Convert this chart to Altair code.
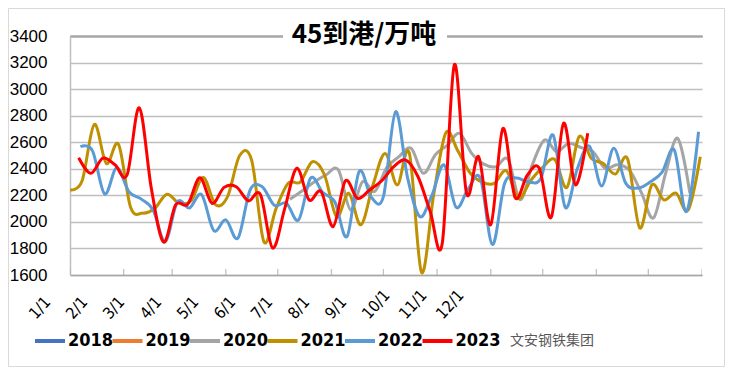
import altair as alt
import pandas as pd
from datetime import date, timedelta

# ---------------- data ----------------
years = ["2018", "2019", "2020", "2021", "2022", "2023"]
colors = ["#4472C4", "#ED7D31", "#A5A5A5", "#BF9000", "#5B9BD5", "#FF0000"]

first_week = {
    "2020": "2020-05-08",
    "2021": "2021-01-01",
    "2022": "2022-01-07",
    "2023": "2023-01-06",
}

v2020 = [2170, 2232, 2300, 2355, 2391, 2091, 2303, 2230, 2410, 2491,
         2554, 2366, 2505, 2579, 2667, 2516, 2435, 2416, 2470, 2166,
         2430, 2616, 2530, 2591, 2560, 2530, 2404, 2430, 2390, 2220,
         2030, 2366, 2629, 2216]

v2021 = [2241, 2310, 2734, 2440, 2584, 2110, 2066, 2103, 2208, 2141,
         2160, 2335, 2130, 2190, 2500, 2460, 1850, 2100, 2291, 2300,
         2453, 2353, 2040, 2216, 1978, 2280, 2516, 2278, 2516, 1620,
         2200, 2670, 2535, 2370, 2300, 2290, 2385, 2178, 2310, 2410,
         2470, 2260, 2641, 2480, 2440, 2360, 2475, 1955, 2278, 2166,
         2216, 2090, 2491]

v2022 = [2566, 2535, 2210, 2408, 2228, 2173, 2090, 1852, 2150, 2105,
         2205, 1935, 2015, 1878, 2240, 2265, 2125, 2141, 2015, 2330,
         2220, 2150, 1890, 2380, 2185, 2190, 2829, 2330, 2040, 2200,
         2429, 2110, 2250, 2329, 1830, 2290, 2330, 2300, 2330, 2654,
         2110, 2400, 2570, 2271, 2554, 2290, 2255, 2300, 2375, 2541,
         2078, 2679]

v2023 = [2483, 2366, 2480, 2430, 2355, 2859, 2250, 1848, 2128, 2133,
         2333, 2140, 2260, 2265, 2158, 2205, 1803, 2100, 2404, 2166,
         2228, 1965, 2308, 2178, 2240, 2310, 2416, 2466, 2340, 2080,
         1840, 3185, 2216, 2491, 1978, 2704, 2186, 2350, 2404, 2036,
         2742, 2278, 2667]

series_values = {"2020": v2020, "2021": v2021, "2022": v2022, "2023": v2023}

month_days = [0, 31, 59, 90, 120, 151, 181, 212, 243, 273, 304, 334, 365]
month_labels = ["1/1", "2/1", "3/1", "4/1", "5/1", "6/1",
                "7/1", "8/1", "9/1", "10/1", "11/1", "12/1"]
y_ticks = [1600, 1800, 2000, 2200, 2400, 2600, 2800, 3000, 3200, 3400]

title_text = "45到港/万吨"
watermark_text = "文安钢铁集团"

# ---------------- tables ----------------
def series_frame(year):
    d0 = date.fromisoformat(first_week[year])
    rows = []
    for i, v in enumerate(series_values[year]):
        d = d0 + timedelta(days=7 * i)
        day = (date(2023, d.month, d.day) - date(2023, 1, 1)).days
        rows.append({"year": year, "day": day, "value": v})
    return pd.DataFrame(rows)

color_scale = alt.Scale(domain=years, range=colors)
x_scale = alt.Scale(domain=[0, 365], nice=False, zero=False)
y_scale = alt.Scale(domain=[1600, 3400], nice=False, zero=False)

NARROW = "Liberation Sans Narrow, Arial Narrow, DejaVu Sans Condensed, Liberation Sans"
CJK = "Noto Sans CJK SC"

y_axis = alt.Axis(values=y_ticks, format="d", grid=True, gridColor="#BFBFBF", gridWidth=1.5,
                  domain=True, domainColor="#BFBFBF", domainWidth=1.5, ticks=False,
                  labelFont="Liberation Sans", labelFontSize=17, labelColor="#000000",
                  labelPadding=23, title=None)
x_axis = alt.Axis(values=month_days, labels=False, ticks=False, grid=False,
                  domain=True, domainColor="#A6A6A6", domainWidth=1.5, title=None)

X = alt.X("day:Q", scale=x_scale, axis=x_axis)
Y = alt.Y("value:Q", scale=y_scale, axis=y_axis)

line_layers = []
for yr in ["2020", "2021", "2022", "2023"]:
    line_layers.append(
        alt.Chart(series_frame(yr)).mark_line(
            interpolate="cardinal", strokeWidth=3, clip=True
        ).encode(
            x=X, y=Y,
            color=alt.Color("year:N", scale=color_scale, legend=None),
        )
    )

# inward month tick marks on the date axis
tick_df = pd.DataFrame({"day": month_days, "value": [1600] * len(month_days)})
ticks = alt.Chart(tick_df).mark_tick(
    color="#A6A6A6", thickness=1.3, size=12, orient="vertical", clip=True
).encode(x=X, y=Y)

title_df = pd.DataFrame({"t": [title_text]})
title_bg = alt.Chart(title_df).mark_rect(fill="white").encode(
    x=alt.value(213), x2=alt.value(377), y=alt.value(-11), y2=alt.value(11)
)
title_mark = alt.Chart(title_df).mark_text(
    font=CJK, fontSize=26, fontWeight="bold", color="#000000",
    align="center", baseline="middle"
).encode(text="t:N", x=alt.value(294), y=alt.value(-1))

# rotated month labels
xl_df = pd.DataFrame({"i": list(range(12)), "label": month_labels})
xlabels = alt.Chart(xl_df).mark_text(
    angle=312, align="left", baseline="alphabetic",
    font=NARROW, fontSize=16, color="#000000"
).encode(
    x=alt.X("i:Q", scale=alt.Scale(domain=[0.919, 18.0], nice=False, zero=False), axis=None),
    y=alt.value(284),
    text="label:N",
)

# legend built from the color scale
leg_df = pd.DataFrame({"year": years, "i": list(range(len(years)))})
leg_x = alt.X("i:Q", scale=alt.Scale(domain=[0.258, 8.413], nice=False, zero=False), axis=None)
leg_sw = alt.Chart(leg_df).mark_point(
    shape="stroke", size=900, strokeWidth=4, filled=False, opacity=1
).encode(
    x=leg_x, y=alt.value(305),
    color=alt.Color("year:N", scale=color_scale, legend=None),
)
leg_tx = alt.Chart(leg_df).mark_text(
    align="left", baseline="middle", dx=18, font=NARROW, fontSize=18,
    fontWeight="bold", color="#000000"
).encode(x=leg_x, y=alt.value(305), text="year:N")

wm_df = pd.DataFrame({"t": [watermark_text]})
wm_tx = alt.Chart(wm_df).mark_text(
    align="left", baseline="middle", font=CJK, fontSize=14, color="#595959"
).encode(text="t:N", x=alt.value(440), y=alt.value(305))

border = alt.Chart(wm_df).mark_rect(
    fillOpacity=0, stroke="#D9D9D9", strokeWidth=1
).encode(x=alt.value(-61.5), x2=alt.value(654.5), y=alt.value(-27.5), y2=alt.value(330.5))

chart = alt.layer(
    *line_layers, ticks, title_bg, title_mark, xlabels, leg_sw, leg_tx, wm_tx, border
).resolve_scale(
    x="independent"
).properties(
    width=632, height=239,
    autosize=alt.AutoSizeParams(type="none"),
    padding={"left": 62, "top": 28, "right": 23, "bottom": 92},
    background="white",
).configure_view(stroke="transparent")

chart.save("out.html", embed_options={"renderer": "svg", "actions": False})
